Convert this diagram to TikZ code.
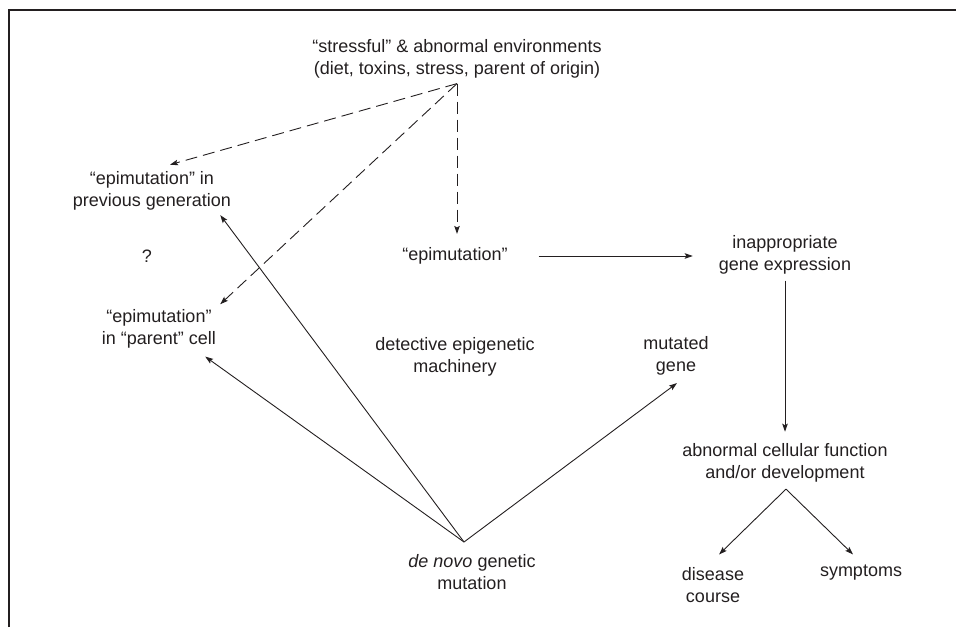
\documentclass[tikz,border=0pt]{standalone}
\usepackage{fontspec}
\setmainfont{Liberation Sans}
\usepackage{tikz}
\usetikzlibrary{arrows.meta, positioning}
\definecolor{ink}{RGB}{35,31,32}

\begin{document}
\begin{tikzpicture}[x=1pt, y=-1pt,
    lbl/.style={inner sep=0pt, align=center, text=ink, font=\fontsize{18}{22}\selectfont},
    ar/.style={-{Stealth[length=8pt, width=5.5pt, inset=1.5pt]}, draw=ink, line width=0.9pt},
    dsh/.style={ar, dash pattern=on 12pt off 6pt}]

\useasboundingbox (0,0) rectangle (956,627);

% Frame, top and left edge only
\draw[ink, line width=1.6pt] (9,627) -- (9,10) -- (956,10);

% Causes
\node[lbl] (env) at (457,58.5) {“stressful” \& abnormal environments\\(diet, toxins, stress, parent of origin)};
\node[lbl] (prevgen) at (152,191) {“epimutation” in\\previous generation};
\node[lbl] (q) at (147,256) {?};
\node[lbl] (parcell) at (159,328.5) {“epimutation”\\in “parent” cell};
\node[lbl] (detect) at (455,357) {detective epigenetic\\machinery};
\node[lbl] (denovo) at (472,572.5) {\textit{de novo} genetic\\mutation};

% Effects
\node[lbl] (epi) at (455,256) {“epimutation”};
\node[lbl] (mutgene) at (676,356) {mutated\\gene};
\node[lbl] (inapp) at (785,254.5) {inappropriate\\gene expression};
\node[lbl] (abn) at (785,463) {abnormal cellular function\\and/or development};
\node[lbl] (disease) at (713,585) {disease\\course};
\node[lbl] (symptoms) at (861,573) {symptoms};

% Hubs where the arrows meet
\coordinate (envfoot) at ([yshift=-5.5pt]env.south);
\coordinate (denovotop) at ([xshift=-8pt, yshift=12.7pt]denovo.north);
\coordinate (abnfoot) at ([xshift=1pt, yshift=-6.5pt]abn.south);

% Dashed arrows from the environment
\draw[dsh] (envfoot) -- ([xshift=18pt, yshift=6.7pt]prevgen.north);
\draw[dsh] (envfoot) -- ([xshift=4pt, yshift=4.7pt]parcell.north east);
\draw[dsh, shorten >=13.5pt] (envfoot) -- (envfoot |- epi.north);

% Arrows from the mutation
\draw[ar] (denovotop) -- ([xshift=-11pt, yshift=-4.5pt]prevgen.south east);
\draw[ar] (denovotop) -- ([xshift=-11pt, yshift=-8.5pt]parcell.south east);
\draw[ar] (denovotop) -- ([xshift=1pt, yshift=-7.5pt]mutgene.south);

% Consequences
\draw[ar, shorten <=31pt, shorten >=26pt] (epi.east) -- (epi.east -| inapp.west);
\draw[ar, shorten <=6.5pt, shorten >=11.7pt] (inapp) -- (abn);
\draw[ar] (abnfoot) -- ([xshift=6pt, yshift=12.7pt]disease.north);
\draw[ar] (abnfoot) -- ([xshift=-8pt, yshift=10.7pt]symptoms.north);

\end{tikzpicture}
\end{document}
